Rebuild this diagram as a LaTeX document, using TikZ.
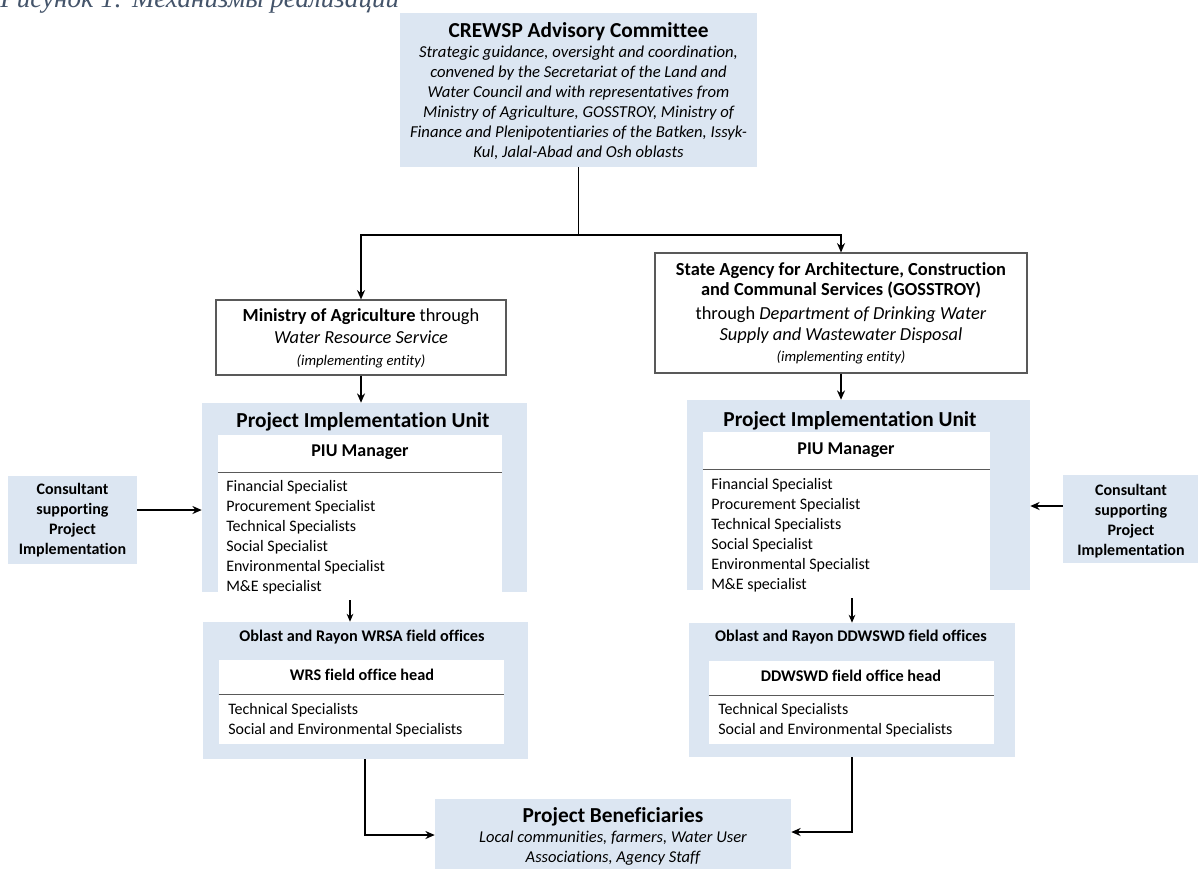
\documentclass[tikz,border=0pt]{standalone}
\usepackage{fontspec}
\setmainfont{Carlito}[Ligatures=NoCommon]
\newfontfamily\capfont{Liberation Serif}
\usetikzlibrary{arrows.meta,fit,calc}
\definecolor{lblue}{RGB}{220,230,242}
\definecolor{bord}{RGB}{89,89,89}
\definecolor{capcol}{RGB}{68,84,106}
\begin{document}
\begin{tikzpicture}[x=0.75pt,y=-0.75pt,
  bluebox/.style={fill=lblue, draw=none, inner sep=0pt},
  whitebox/.style={fill=white, draw=none, inner sep=0pt},
  entbox/.style={fill=white, draw=bord, line width=0.8pt, inner sep=0pt},
  arr/.style={-{Stealth[length=7pt,width=6pt]}, line width=1.4pt},
  thinarr/.style={-{Stealth[length=6pt,width=5pt]}, line width=0.9pt},
  conn/.style={line width=1.4pt},
  sepline/.style={draw=bord, line width=1pt},
  title/.style={font=\bfseries\fontsize{16}{19}\selectfont, inner sep=0pt},
  sub/.style={font=\bfseries\fontsize{13.5}{16}\selectfont, inner sep=0pt},
  small/.style={font=\bfseries\fontsize{12.2}{15}\selectfont, inner sep=0pt},
  lst/.style={font=\fontsize{12}{15}\selectfont, align=left, anchor=west, inner sep=0pt},
  txt/.style={align=center, inner sep=0pt}]
\useasboundingbox (0,0) rectangle (1198,868);
\clip (0,0) rectangle (1198,868);

% caption
\node[anchor=base west, inner sep=0pt, font=\capfont\itshape\fontsize{20.3}{24}\selectfont, text=capcol] (cap) at (0,7.5) {Рисунок 1: Механизмы реализации};

% top committee
\node[bluebox, fit={(400,13)(757,167)}] (top) {};
\node[title] (topT) at (578.5,32) {CREWSP Advisory Committee};
\node[txt, font=\itshape\fontsize{12.5}{15}\selectfont] (topB) at (578.5,103) {Strategic guidance, oversight and coordination,\\ convened by the Secretariat of the Land and\\ Water Council and with representatives from\\ Ministry of Agriculture, GOSSTROY, Ministry of\\ Finance and Plenipotentiaries of the Batken, Issyk-\\ Kul, Jalal-Abad and Osh oblasts};

% implementing entities
\node[entbox, fit={(216,300)(506,375)}] (min) {};
\node[txt, font=\fontsize{13.8}{16.5}\selectfont] (minT) at (361,338) {\textbf{Ministry of Agriculture} through\\ \textit{Water Resource Service}\\ {\fontsize{11}{13}\selectfont\textit{(implementing entity)}}};

\node[entbox, fit={(655,253)(1027,373)}] (agency) {};
\node[txt, font=\fontsize{13.8}{15.5}\selectfont] (agencyT) at (841,313) {\textbf{State Agency for Architecture, Construction}\\ \textbf{and Communal Services (GOSSTROY)}\\[2.5pt] through \textit{Department of Drinking Water}\\ \textit{Supply and Wastewater Disposal}\\ {\fontsize{11}{13}\selectfont\textit{(implementing entity)}}};

% PIU left
\node[bluebox, fit={(202,403)(527,592)}] (piuL) {};
\node[whitebox, fit={(218,435)(502,600)}] (piuLin) {};
\node[title] (piuLT) at (363,422) {Project Implementation Unit};
\node[sub] (piuLM) at (360,452) {PIU Manager};
\draw[sepline] ($(piuLin.north west)+(0,38)$) -- ($(piuLin.north east)+(0,38)$);
\node[lst] (piuLL) at (226,537) {Financial Specialist\\ Procurement Specialist\\ Technical Specialists\\ Social Specialist\\ Environmental Specialist\\ M\&E specialist};

% PIU right
\node[bluebox, fit={(687,400)(1030,590)}] (piuR) {};
\node[whitebox, fit={(703,432)(990,598)}] (piuRin) {};
\node[title] (piuRT) at (850,421) {Project Implementation Unit};
\node[sub] (piuRM) at (846,450) {PIU Manager};
\draw[sepline] ($(piuRin.north west)+(0,38)$) -- ($(piuRin.north east)+(0,38)$);
\node[lst] (piuRL) at (711,535) {Financial Specialist\\ Procurement Specialist\\ Technical Specialists\\ Social Specialist\\ Environmental Specialist\\ M\&E specialist};

% consultants
\node[bluebox, fit={(8,476)(137,564)}] (consL) {};
\node[txt, font=\bfseries\fontsize{12}{15}\selectfont] (consLT) at (72.5,520) {Consultant\\ supporting\\ Project\\ Implementation};
\node[bluebox, fit={(1063,475)(1200,563)}] (consR) {};
\node[txt, font=\bfseries\fontsize{12}{15}\selectfont] (consRT) at (1131,521) {Consultant\\ supporting\\ Project\\ Implementation};

% field offices left
\node[bluebox, fit={(203,622)(528,759)}] (fieldL) {};
\node[whitebox, fit={(219,660)(504,744)}] (fieldLin) {};
\node[small] (fieldLT) at (362,637) {Oblast and Rayon WRSA field offices};
\node[small] (fieldLH) at (362,675) {WRS field office head};
\draw[sepline] ($(fieldLin.north west)+(0,35)$) -- ($(fieldLin.north east)+(0,35)$);
\node[lst] (fieldLL) at (228,720) {Technical Specialists\\ Social and Environmental Specialists};

% field offices right
\node[bluebox, fit={(689,623)(1015,757)}] (fieldR) {};
\node[whitebox, fit={(709,661)(994,744)}] (fieldRin) {};
\node[small] (fieldRT) at (851,637) {Oblast and Rayon DDWSWD field offices};
\node[small] (fieldRH) at (851,676) {DDWSWD field office head};
\draw[sepline] ($(fieldRin.north west)+(0,35)$) -- ($(fieldRin.north east)+(0,35)$);
\node[lst] (fieldRL) at (718,720) {Technical Specialists\\ Social and Environmental Specialists};

% beneficiaries
\node[bluebox, fit={(435,799)(791,890)}] (ben) {};
\node[title] (benT) at (613,817) {Project Beneficiaries};
\node[txt, font=\itshape\fontsize{12.4}{15}\selectfont] (benB) at (613,848.5) {Local communities, farmers, Water User\\ Associations, Agency Staff};

% connectors
\coordinate (j) at (578.5,235);
\draw[conn] (top.south) -- (j);
\draw[arr] (j) -| (min.north);
\draw[arr] (j) -| (agency.north);
\draw[arr] (min.south) -- (min.south |- piuL.north);
\draw[arr] (agency.south) -- (agency.south |- piuR.north);
\draw[arr] ([yshift=7.5pt]consL.east) -- ([yshift=7.5pt]consL.east -| piuL.west);
\draw[arr] ([yshift=9.75pt]consR.west) -- ([yshift=9.75pt]consR.west -| piuR.east);
\draw[thinarr] ([xshift=-7.5pt]piuLin.south) -- ([xshift=-7.5pt]piuLin.south |- fieldL.north);
\draw[thinarr] (piuRin.south -| fieldR.north) -- (fieldR.north);
\coordinate (eL) at (365,835);
\coordinate (eR) at (852,832);
\draw[arr] (fieldL.south -| eL) -- (eL) -- (eL -| ben.west);
\draw[arr] (fieldR.south -| eR) -- (eR) -- (eR -| ben.east);
\end{tikzpicture}
\end{document}
